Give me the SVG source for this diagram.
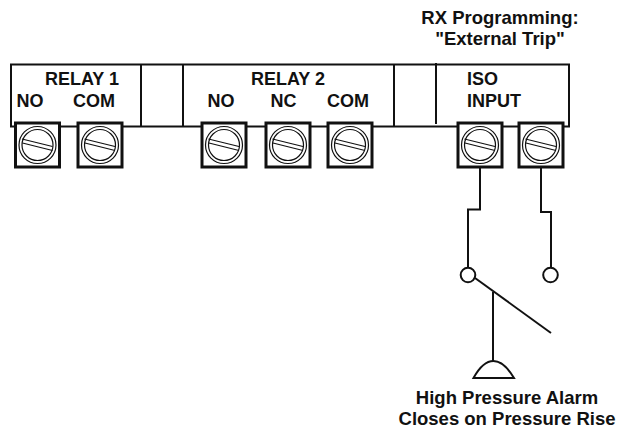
<svg xmlns="http://www.w3.org/2000/svg" width="619" height="429" viewBox="0 0 619 429">
<style>
.l{fill:none;stroke:#111;stroke-width:2}
.f{fill:none;stroke:#111;stroke-width:1.2}
.b{fill:#fff;stroke:#111;stroke-width:3}
text{font-family:"Liberation Sans",Arial,sans-serif;font-weight:bold;font-size:18px;fill:#111}
.m{text-anchor:middle}
</style>
<defs>
<g id="t">
<rect class="b" x="-22" y="-22" width="44" height="44"/>
<circle class="f" r="18.500"/>
<circle class="f" r="15.500"/>
<path class="f" d="M-15.500-5.500L15 2M-15-1.500L15 6" transform="translate(0 -0.500)"/>
</g>
</defs>
<rect id="strip" class="l" x="11" y="64.500" width="558" height="62"/>
<g id="dividers">
<path class="l" d="M141 64V126M183 64V126M394 64V126M436 63V124"/>
</g>
<g id="term1"><use href="#t" x="37.500" y="145"/></g>
<g id="term2"><use href="#t" x="100" y="145"/></g>
<g id="term3"><use href="#t" x="224" y="145"/></g>
<g id="term4"><use href="#t" x="288" y="145"/></g>
<g id="term5"><use href="#t" x="350" y="145"/></g>
<g id="term6"><use href="#t" x="480" y="145"/></g>
<g id="term7"><use href="#t" x="541" y="145"/></g>
<g id="connectors">
<path class="l" d="M480 168V209.500H468V268"/>
<path class="l" d="M541 168V212H551V268"/>
<path class="l" d="M475 278L551 333"/>
<path class="l" d="M493 292V361"/>
</g>
<g id="contact1"><circle class="l" cx="468" cy="275" r="7.300"/></g>
<g id="contact2"><circle class="l" cx="550.500" cy="275" r="7.300"/></g>
<g id="sensor"><path class="l" d="M473.500 378H514C508 368 501 361 493.500 361C486 361 479 368 473.500 378Z"/></g>
<g id="labels">
<text class="m" x="82" y="85">RELAY 1</text>
<text x="16.500" y="107">NO</text>
<text x="73" y="107">COM</text>
<text class="m" x="288" y="85">RELAY 2</text>
<text x="207.500" y="107">NO</text>
<text x="270.500" y="107">NC</text>
<text x="327" y="107">COM</text>
<text x="467" y="85">ISO</text>
<text x="467" y="107">INPUT</text>
<text class="m" x="500" y="24" style="font-size:18.500px">RX Programming:</text>
<text class="m" x="500" y="45" style="font-size:18.500px">"External Trip"</text>
<text class="m" x="507" y="404" style="font-size:18.500px">High Pressure Alarm</text>
<text class="m" x="507" y="425" style="font-size:18.500px">Closes on Pressure Rise</text>
</g>
</svg>
